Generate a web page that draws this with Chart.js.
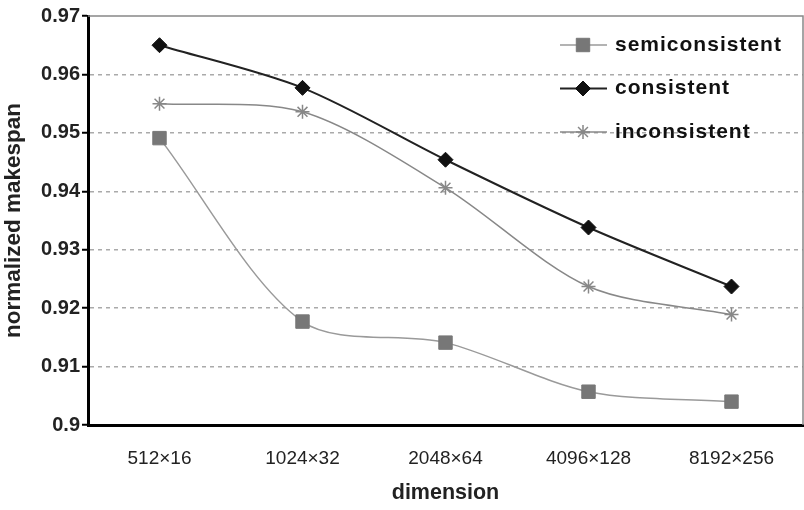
<!DOCTYPE html>
<html>
<head>
<meta charset="utf-8">
<script src="https://cdn.jsdelivr.net/npm/chart.js@4/dist/chart.umd.min.js"></script>
<style>
    html, body { margin: 0; padding: 0; background: #fff; overflow: hidden; }
    #wrap { position: relative; width: 804px; height: 510px; }
    #makespan-chart { display: block; }
</style>
</head>
<body>
<div id="wrap"><canvas id="makespan-chart"></canvas></div>
<script>
// Data
const dimensions = ['512×16', '1024×32', '2048×64', '4096×128', '8192×256'];
const semiconsistent = [0.9491, 0.9177, 0.9141, 0.9057, 0.9040];
const consistent = [0.9650, 0.9577, 0.9454, 0.9338, 0.9237];
const inconsistent = [0.9550, 0.9536, 0.9406, 0.9237, 0.9189];
const yTicks = [0.9, 0.91, 0.92, 0.93, 0.94, 0.95, 0.96, 0.97];

const FONT = '"Liberation Sans", Arial, sans-serif';

// Frame: solid top and right border of the plot area
const framePlugin = {
    id: 'frame',
    beforeDatasetsDraw(chart) {
        const { ctx, chartArea: a } = chart;
        ctx.save();
        ctx.strokeStyle = '#888';
        ctx.lineWidth = 1.5;
        ctx.beginPath();
        ctx.moveTo(a.left, a.top);
        ctx.lineTo(a.right, a.top);
        ctx.lineTo(a.right, a.bottom);
        ctx.stroke();
        ctx.restore();
    }
};

// Legend drawn inside the plot area, top right
const insideLegend = {
    id: 'insideLegend',
    afterDraw(chart) {
        const { ctx, chartArea: a } = chart;
        const x0 = a.right - 243;
        ctx.save();
        chart.data.datasets.forEach((ds, i) => {
            const y = a.top + 29 + i * 43.5;
            ctx.strokeStyle = ds.borderColor;
            ctx.lineWidth = ds.borderWidth;
            ctx.beginPath();
            ctx.moveTo(x0, y);
            ctx.lineTo(x0 + 47, y);
            ctx.stroke();
            ctx.fillStyle = ds.pointBackgroundColor;
            ctx.strokeStyle = ds.pointBorderColor;
            ctx.lineWidth = ds.pointBorderWidth;
            Chart.helpers.drawPoint(ctx, {
                pointStyle: ds.pointStyle,
                radius: ds.pointRadius,
                rotation: 0,
                borderWidth: ds.pointBorderWidth
            }, x0 + 23, y);
            ctx.fillStyle = '#111';
            ctx.font = 'bold 21px ' + FONT;
            ctx.letterSpacing = '1px';
            ctx.textBaseline = 'middle';
            ctx.textAlign = 'left';
            ctx.fillText(ds.label, x0 + 55, y);
        });
        ctx.restore();
    }
};

document.addEventListener('DOMContentLoaded', function() {
    const ctx = document.getElementById('makespan-chart').getContext('2d');
    new Chart(ctx, {
        type: 'line',
        data: {
            labels: dimensions,
            datasets: [{
                label: 'semiconsistent',
                data: semiconsistent,
                borderColor: '#9a9a9a',
                borderWidth: 1.5,
                pointStyle: 'rect',
                pointRadius: 9.5,
                pointBackgroundColor: '#777',
                pointBorderColor: '#777',
                pointBorderWidth: 1,
                tension: 0.3
            }, {
                label: 'consistent',
                data: consistent,
                borderColor: '#222',
                borderWidth: 2,
                pointStyle: 'rectRot',
                pointRadius: 7.5,
                pointBackgroundColor: '#111',
                pointBorderColor: '#111',
                pointBorderWidth: 1,
                tension: 0.3
            }, {
                label: 'inconsistent',
                data: inconsistent,
                borderColor: '#888',
                borderWidth: 1.5,
                pointStyle: 'star',
                pointRadius: 7,
                pointBackgroundColor: '#888',
                pointBorderColor: '#888',
                pointBorderWidth: 1.5,
                tension: 0.3
            }]
        },
        options: {
            responsive: true,
            maintainAspectRatio: false,
            animation: false,
            layout: { autoPadding: false, padding: { top: 16, right: 1, bottom: 0, left: 0 } },
            plugins: {
                legend: { display: false },
                tooltip: { enabled: false }
            },
            scales: {
                x: {
                    offset: true,
                    grid: { display: false, drawTicks: false },
                    border: { display: true, color: '#000', width: 3 },
                    ticks: {
                        color: '#222',
                        padding: 22,
                        font: { family: FONT, size: 19 }
                    },
                    title: {
                        display: true,
                        text: 'dimension',
                        color: '#222',
                        font: { family: FONT, size: 21.5, weight: 'bold' },
                        padding: { top: 0, bottom: 4 }
                    },
                    afterFit: s => {
                        s.height = 85;
                        s.paddingLeft = 0;
                        s.paddingRight = 0;
                    }
                },
                y: {
                    min: yTicks[0],
                    max: yTicks[yTicks.length - 1],
                    afterBuildTicks: s => { s.ticks = yTicks.map(v => ({ value: v })); },
                    grid: {
                        color: c => (c.index === 0 || c.index === yTicks.length - 1) ? 'rgba(0,0,0,0)' : '#aaa',
                        lineWidth: 1.5,
                        tickLength: 6,
                        tickColor: '#000',
                        tickWidth: 2,
                        tickBorderDash: []
                    },
                    border: { display: true, color: '#000', width: 3, dash: [4, 4] },
                    ticks: {
                        color: '#222',
                        padding: 2,
                        font: { family: FONT, size: 20, weight: 'bold' },
                        callback: v => String(parseFloat(Number(v).toFixed(2)))
                    },
                    title: {
                        display: true,
                        text: 'normalized makespan',
                        color: '#222',
                        font: { family: FONT, size: 22.5, weight: 'bold' },
                        padding: { top: 0, bottom: 0 }
                    },
                    afterFit: s => { s.width = 88; }
                }
            }
        },
        plugins: [framePlugin, insideLegend]
    });
});
</script>
</body>
</html>
